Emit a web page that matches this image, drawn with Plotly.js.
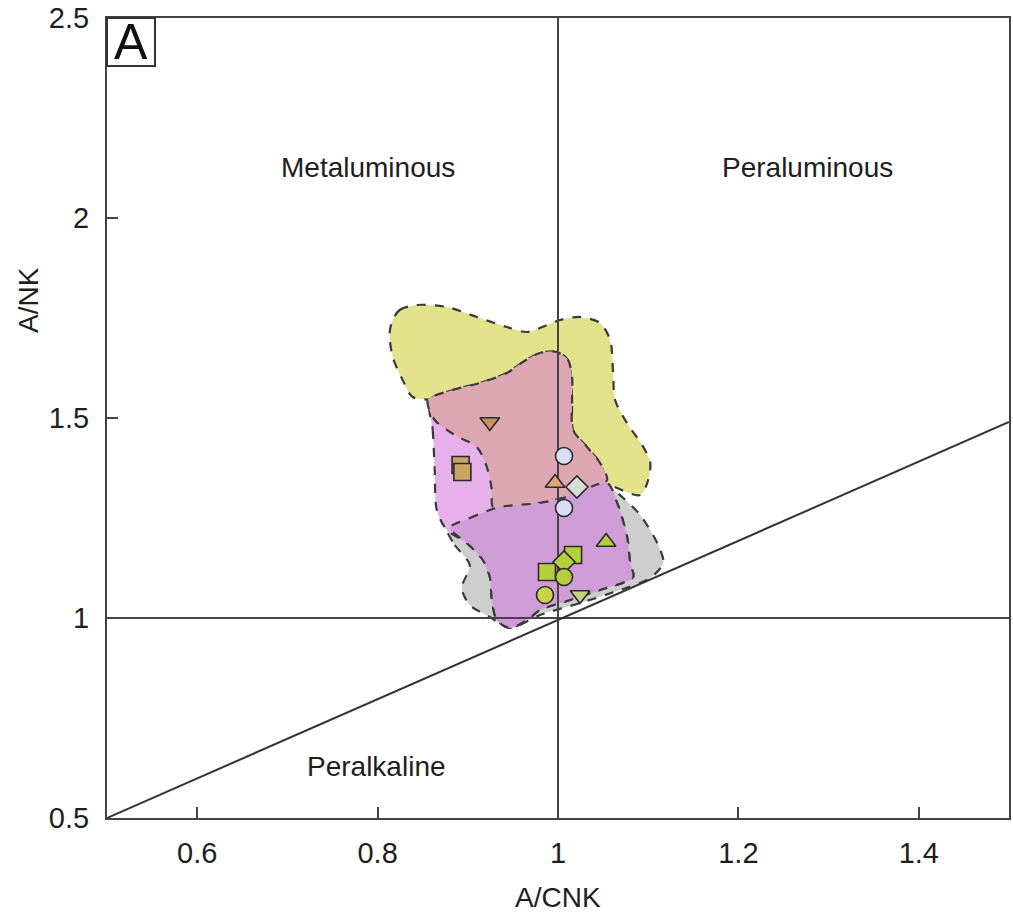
<!DOCTYPE html>
<html><head><meta charset="utf-8">
<script src="https://cdn.plot.ly/plotly-3.0.1.min.js"></script>
<style>body{margin:0;background:#fff}#chart{width:1013px;height:915px}</style>
</head><body><div id="chart"></div>
<script>
// Field outlines (A/CNK, A/NK)
const yellowX = [0.8167,0.8244,0.8433,0.8767,0.91,0.9433,0.9656,0.9878,1.0022,1.0244,1.0467,1.0578,1.0611,1.0633,1.0778,1.0933,1.1022,1.1,1.0911,1.0578,1.0244,1.0022,0.9578,0.9133,0.8689,0.8389,0.8278,0.8167,0.8133];
const yellowY = [1.745,1.77,1.7825,1.7775,1.7525,1.7275,1.715,1.7325,1.745,1.7525,1.7375,1.695,1.6125,1.545,1.4825,1.4325,1.39,1.345,1.3075,1.3325,1.37,1.42,1.495,1.5325,1.545,1.5525,1.595,1.6525,1.7125];

const grayX = [0.8767,0.8856,0.9022,0.8933,0.9022,0.9244,0.9467,0.98,1.0244,1.0689,1.1022,1.1167,1.1111,1.0911,1.0711,1.05,1.0244,0.98,0.9356,0.8967];
const grayY = [1.225,1.1825,1.1325,1.075,1.0325,1.0025,0.975,1.0075,1.0375,1.07,1.1,1.1375,1.1825,1.2575,1.3025,1.3375,1.3325,1.295,1.27,1.25];

const lilacX = [0.8578,0.8611,0.8633,0.8656,0.8767,0.8989,0.9167,0.9244,0.9267,0.9322,0.9467,0.9656,0.98,1.0133,1.0467,1.0833,1.08,1.0767,1.0656,1.0544,1.0467,1.0322,1.0167,1.0156,1.0111,0.9989,0.98,0.9611,0.9433,0.9133,0.8833];
const lilacY = [1.545,1.47,1.37,1.27,1.22,1.1875,1.145,1.1025,1.045,0.995,0.975,0.995,1.02,1.045,1.07,1.1025,1.1375,1.2025,1.2875,1.3375,1.3875,1.4275,1.47,1.545,1.645,1.665,1.6625,1.64,1.6125,1.5875,1.57];

const salmonX = [0.8556,0.8833,0.9133,0.9433,0.9611,0.98,0.9989,1.0111,1.0156,1.0156,1.0167,1.0322,1.0467,1.0544,1.0356,1.01,0.98,0.9467,0.9278,0.9267,0.9211,0.91,0.8856,0.8633];
const salmonY = [1.545,1.57,1.5875,1.6125,1.64,1.6625,1.665,1.645,1.6025,1.545,1.47,1.4275,1.3875,1.345,1.32,1.3025,1.2875,1.2775,1.2775,1.32,1.3775,1.4275,1.4575,1.495];

const purpleX = [0.88,0.9022,0.9356,0.98,1.01,1.0544,1.0656,1.0767,1.08,1.0833,1.0467,1.0133,0.98,0.9656,0.9467,0.9322,0.9267,0.9244,0.9167,0.8989];
const purpleY = [1.225,1.25,1.2775,1.2875,1.3025,1.3375,1.2875,1.2025,1.1375,1.1025,1.07,1.045,1.02,0.995,0.975,0.995,1.045,1.1025,1.145,1.1875];

// Samples
const sampleX = [0.9244,0.892,0.894,1.0067,1.0067,0.9967,1.021,1.0533,1.0167,0.9878,1.0067,1.0067,0.9856,1.0244];
const sampleY = [1.49,1.3825,1.365,1.405,1.275,1.3375,1.3275,1.19,1.1575,1.115,1.14,1.1025,1.0575,1.0575];
const sampleSymbol = ['triangle-down','square','square','circle','circle','triangle-up','diamond','triangle-up','square','square','diamond','circle','circle','triangle-down'];
const sampleColor = ['#c99260','#c9a663','#c9a663','#dcdcf2','#dcdcf2','#e3a478','#d6dcd6','#b5cf3c','#b5cf3c','#b5cf3c','#b5cf3c','#b5cf3c','#c9d24a','#c4d47a'];

// Boundary lines
const diagX = [0.5,1.5];
const diagY = [0.5,1.49];

const dashLine = {color:'#3a3a3a', width:2.2, dash:'dash', shape:'spline', smoothing:0.8};
function field(x,y,fill){
  return {x:x.concat([x[0]]), y:y.concat([y[0]]), mode:'lines', fill:'toself', fillcolor:fill, line:dashLine, hoverinfo:'skip', showlegend:false};
}

const traces = [
  field(yellowX,yellowY,'rgba(226,226,138,1)'),
  field(grayX,grayY,'rgba(206,206,206,1)'),
  field(lilacX,lilacY,'rgba(231,176,234,1)'),
  field(salmonX,salmonY,'rgba(220,166,178,1)'),
  field(purpleX,purpleY,'rgba(207,156,216,1)'),
  {x:[1,1], y:[0.5,2.5], mode:'lines', line:{color:'#444',width:2}, hoverinfo:'skip', showlegend:false},
  {x:[0.5,1.5], y:[1,1], mode:'lines', line:{color:'#444',width:2}, hoverinfo:'skip', showlegend:false},
  {x:diagX, y:diagY, mode:'lines', line:{color:'#333',width:2}, hoverinfo:'skip', showlegend:false},
  {x:sampleX, y:sampleY, mode:'markers', marker:{symbol:sampleSymbol, color:sampleColor, size:17, line:{color:'#2a2a2a',width:1.6}}, showlegend:false}
];

const FF = 'Liberation Sans, Arial, sans-serif';
const tickFont = {family:FF, size:29, color:'#1e1e1e'};
const labFont = {family:FF, size:28, color:'#1e1e1e'};
const layout = {
  width:1013, height:915,
  margin:{l:107, r:4, t:18, b:97},
  paper_bgcolor:'#fff', plot_bgcolor:'#fff',
  showlegend:false,
  xaxis:{range:[0.5,1.5], tickvals:[0.6,0.8,1,1.2,1.4], ticktext:['0.6','0.8','1','1.2','1.4'], ticks:'inside', ticklen:11, tickwidth:2, tickcolor:'#444', showgrid:false, zeroline:false, showline:true, linecolor:'#444', linewidth:2, mirror:true, tickfont:tickFont, ticklabelstandoff:8},
  yaxis:{range:[0.5,2.5], tickvals:[0.5,1,1.5,2,2.5], ticktext:['0.5','1','1.5','2','2.5'], ticks:'inside', ticklen:11, tickwidth:2, tickcolor:'#444', showgrid:false, zeroline:false, showline:true, linecolor:'#444', linewidth:2, mirror:true, tickfont:tickFont, ticklabelstandoff:10},
  shapes:[
    {type:'rect', xref:'paper', yref:'paper', x0:0, x1:48/902, y0:1-48/800, y1:1, line:{color:'#333', width:2}, fillcolor:'#fff'}
  ],
  annotations:[
    {x:0.789, y:2.127, xref:'x', yref:'y', text:'Metaluminous', showarrow:false, font:labFont},
    {x:1.277, y:2.127, xref:'x', yref:'y', text:'Peraluminous', showarrow:false, font:labFont},
    {x:0.799, y:0.628, xref:'x', yref:'y', text:'Peralkaline', showarrow:false, font:labFont},
    {x:24/902, y:1-24/800, xref:'paper', yref:'paper', xanchor:'center', yanchor:'middle', text:'A', showarrow:false, font:{family:FF, size:50, color:'#111'}},
    {x:0.5, y:-0.099, xref:'paper', yref:'paper', yanchor:'middle', text:'A/CNK', showarrow:false, font:labFont},
    {x:-0.0876, y:0.6475, xref:'paper', yref:'paper', xanchor:'center', yanchor:'middle', text:'A/NK', textangle:-90, showarrow:false, font:labFont}
  ]
};
Plotly.newPlot('chart', traces, layout, {displayModeBar:false, staticPlot:true});
</script>
</body></html>
